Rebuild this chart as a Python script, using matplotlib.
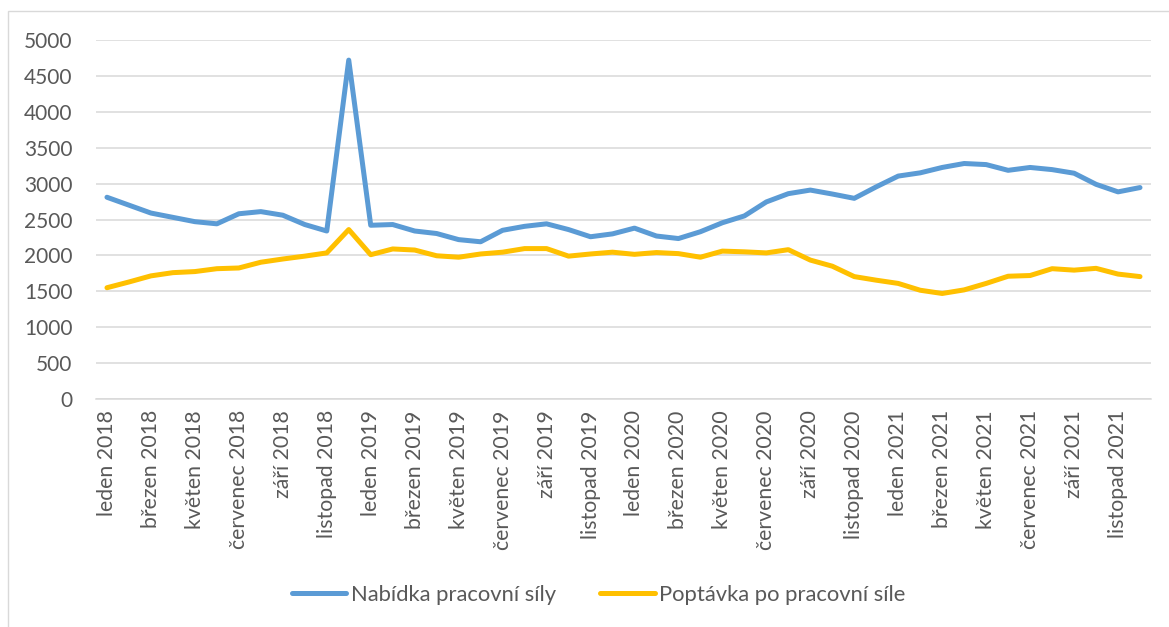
"""Nabídka a poptávka po pracovní síle, měsíčně 2018-2021."""
import matplotlib

matplotlib.use("Agg")
import matplotlib.pyplot as plt
from matplotlib.patches import Rectangle

MONTHS = ["leden", "únor", "březen", "duben", "květen", "červen",
          "červenec", "srpen", "září", "říjen", "listopad", "prosinec"]
YEARS = [2018, 2019, 2020, 2021]
labels = [f"{m} {y}" for y in YEARS for m in MONTHS]

nabidka = [
    2810, 2700, 2590, 2530, 2470, 2440, 2580, 2610, 2560, 2430, 2340, 4720,
    2420, 2430, 2340, 2305, 2220, 2190, 2350, 2405, 2440, 2360, 2260, 2300,
    2380, 2270, 2235, 2330, 2455, 2550, 2745, 2860, 2910, 2855, 2795, 2955,
    3105, 3150, 3225, 3280, 3265, 3185, 3225, 3195, 3145, 2990, 2885, 2945,
]
poptavka = [
    1550, 1630, 1715, 1760, 1775, 1815, 1825, 1905, 1950, 1990, 2035, 2360,
    2010, 2090, 2075, 1995, 1975, 2020, 2045, 2095, 2095, 1990, 2020, 2045,
    2015, 2040, 2025, 1975, 2060, 2050, 2035, 2080, 1935, 1850, 1705, 1655,
    1610, 1515, 1470, 1520, 1610, 1710, 1720, 1815, 1795, 1820, 1740, 1705,
]

TEXT = "#595959"
plt.rcParams["font.family"] = ["Lato", "DejaVu Sans"]

fig = plt.figure(figsize=(11.69, 6.27), dpi=100)
fig.patches.append(Rectangle((8 / 1169, -0.1), 1.2, 1 - 11 / 627 + 0.1,
                             transform=fig.transFigure, fill=False,
                             edgecolor="#D9D9D9", linewidth=1.0))
ax = fig.add_axes([0.0821, 0.3636, 0.9025, 0.5726])

x = list(range(len(labels)))
ax.plot(x, nabidka, color="#5B9BD5", linewidth=3.6, solid_capstyle="round",
        solid_joinstyle="round", label="Nabídka pracovní síly", zorder=3)
ax.plot(x, poptavka, color="#FFC000", linewidth=3.6, solid_capstyle="round",
        solid_joinstyle="round", label="Poptávka po pracovní síle", zorder=3)

ax.set_xlim(-0.5, len(labels) - 0.5)
ax.set_ylim(0, 5000)
ax.set_yticks(range(0, 5001, 500))
ax.set_xticks(x[::2])
ax.set_xticklabels(labels[::2], rotation=90, va="top", ha="center")
ax.tick_params(axis="y", length=0, pad=17, labelsize=15, labelcolor=TEXT)
ax.tick_params(axis="x", length=0, pad=8, labelsize=15.3, labelcolor=TEXT)

ax.grid(axis="y", color="#D9D9D9", linewidth=1.1)
ax.set_axisbelow(True)
for side in ("top", "right", "left"):
    ax.spines[side].set_visible(False)
ax.spines["bottom"].set_color("#D9D9D9")
ax.spines["bottom"].set_linewidth(1.1)

leg = fig.legend(loc="center", bbox_to_anchor=(0.512, 1 - 595 / 627), ncol=2,
                 frameon=False, fontsize=15.8, handlelength=2.5,
                 handletextpad=0.2, columnspacing=2.0)
for txt in leg.get_texts():
    txt.set_color(TEXT)

fig.savefig("out.png", dpi=100)
